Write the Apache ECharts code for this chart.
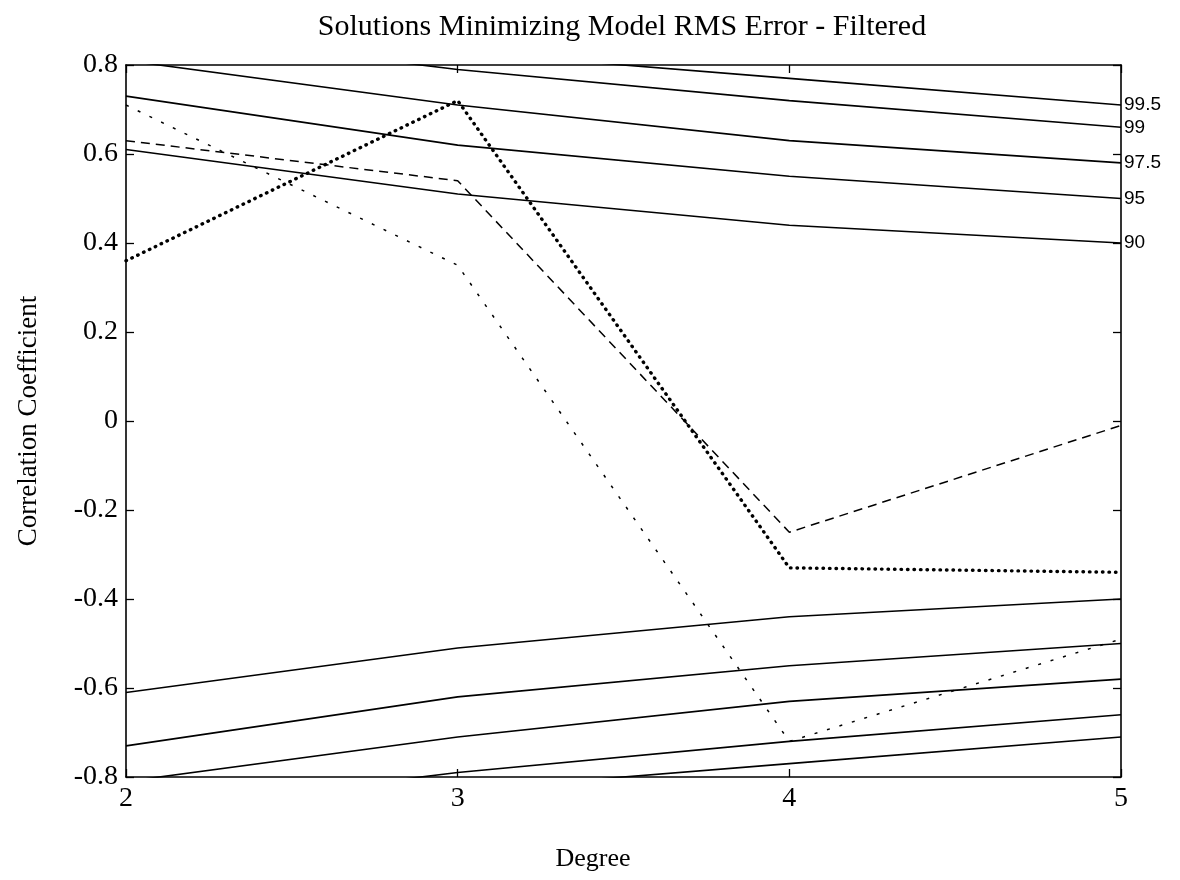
<!DOCTYPE html>
<html>
<head>
<meta charset="utf-8">
<title>Solutions Minimizing Model RMS Error - Filtered</title>
<script src="https://cdn.jsdelivr.net/npm/echarts@6/dist/echarts.min.js"></script>
<style>
  html, body { margin: 0; padding: 0; background: #fff; }
  #chart { width: 1180px; height: 880px; }
</style>
</head>
<body>
<div id="chart"></div>
<script>
// Polynomial degree on the x axis
const degrees = [2, 3, 4, 5];

// Significance curves (upper branch), labelled on the right edge
const levelLabels = ['99.5', '99', '97.5', '95', '90'];
const upper995 = [0.92, 0.83, 0.77, 0.71];
const upper99  = [0.88, 0.79, 0.72, 0.66];
const upper975 = [0.81, 0.71, 0.63, 0.58];
const upper95  = [0.73, 0.62, 0.55, 0.50];
const upper90  = [0.61, 0.51, 0.44, 0.40];

// Significance curves (lower branch)
const lower995 = [-0.92, -0.83, -0.77, -0.71];
const lower99  = [-0.88, -0.79, -0.72, -0.66];
const lower975 = [-0.81, -0.71, -0.63, -0.58];
const lower95  = [-0.73, -0.62, -0.55, -0.50];
const lower90  = [-0.61, -0.51, -0.44, -0.40];

// Correlation of the selected solutions
const solutionDashed = [0.63, 0.54, -0.25, -0.01];
const solutionFine   = [0.71, 0.35, -0.72, -0.49];
const solutionDotted = [0.36, 0.72, -0.33, -0.34];

const serif = '"Liberation Serif", "DejaVu Serif", serif';
const sans = '"Liberation Sans", Arial, sans-serif';

function pts(vals) {
  return degrees.map((d, i) => [d, vals[i]]);
}

function curve(vals, label) {
  const s = {
    type: 'line',
    data: pts(vals),
    symbol: 'none',
    silent: true,
    lineStyle: { color: '#000', width: 1.6, type: 'solid' }
  };
  if (label) {
    s.endLabel = {
      show: true,
      formatter: label,
      distance: 3,
      color: '#000',
      fontFamily: sans,
      fontSize: 19,
      align: 'left',
      verticalAlign: 'middle'
    };
  }
  return s;
}

const upperSets = [upper995, upper99, upper975, upper95, upper90];
const lowerSets = [lower995, lower99, lower975, lower95, lower90];

const series = [];
upperSets.forEach((v, i) => series.push(curve(v, levelLabels[i])));
lowerSets.forEach(v => series.push(curve(v)));

series.push({
  type: 'line', data: pts(solutionDashed), symbol: 'none', silent: true,
  lineStyle: { color: '#000', width: 1.5, type: [9, 6] }
});
series.push({
  type: 'line', data: pts(solutionFine), symbol: 'none', silent: true,
  lineStyle: { color: '#000', width: 1.5, type: [3, 10] }
});
series.push({
  type: 'line', data: pts(solutionDotted), symbol: 'none', silent: true,
  lineStyle: { color: '#000', width: 3.4, type: [0.5, 6], cap: 'round' }
});

const axisLine = { show: true, onZero: false, lineStyle: { color: '#000', width: 1.6 } };
const tickIn = { show: true, inside: true, length: 8, lineStyle: { color: '#000', width: 1.3 } };

const chart = echarts.init(document.getElementById('chart'), null, { renderer: 'canvas' });
chart.setOption({
  animation: false,
  backgroundColor: '#fff',
  grid: { left: 126, right: 59, top: 65, bottom: 103, containLabel: false },
  graphic: [{
    type: 'text',
    x: 622,
    y: 27,
    style: {
      text: 'Solutions Minimizing Model RMS Error - Filtered',
      font: '30px ' + serif,
      fill: '#000',
      align: 'center',
      verticalAlign: 'middle'
    }
  }, {
    type: 'text',
    x: 593,
    y: 859,
    style: {
      text: 'Degree',
      font: '26px ' + serif,
      fill: '#000',
      align: 'center',
      verticalAlign: 'middle'
    }
  }],
  xAxis: [{
    type: 'value', min: 2, max: 5, interval: 1, position: 'bottom',
    axisLine: axisLine, axisTick: tickIn,
    axisLabel: { color: '#000', fontFamily: serif, fontSize: 28, margin: 8 },
    splitLine: { show: false }
  }, {
    type: 'value', min: 2, max: 5, interval: 1, position: 'top',
    axisLine: axisLine, axisTick: tickIn,
    axisLabel: { show: false }, splitLine: { show: false }
  }],
  yAxis: [{
    type: 'value', min: -0.8, max: 0.8, interval: 0.2, position: 'left',
    name: 'Correlation Coefficient', nameLocation: 'middle', nameGap: 84, nameRotate: 90,
    nameTextStyle: { color: '#000', fontFamily: serif, fontSize: 27 },
    axisLine: axisLine, axisTick: tickIn,
    axisLabel: { color: '#000', fontFamily: serif, fontSize: 28, margin: 8 },
    splitLine: { show: false }
  }, {
    type: 'value', min: -0.8, max: 0.8, interval: 0.2, position: 'right',
    axisLine: axisLine, axisTick: tickIn,
    axisLabel: { show: false }, splitLine: { show: false }
  }],
  series: series
});
</script>
</body>
</html>
